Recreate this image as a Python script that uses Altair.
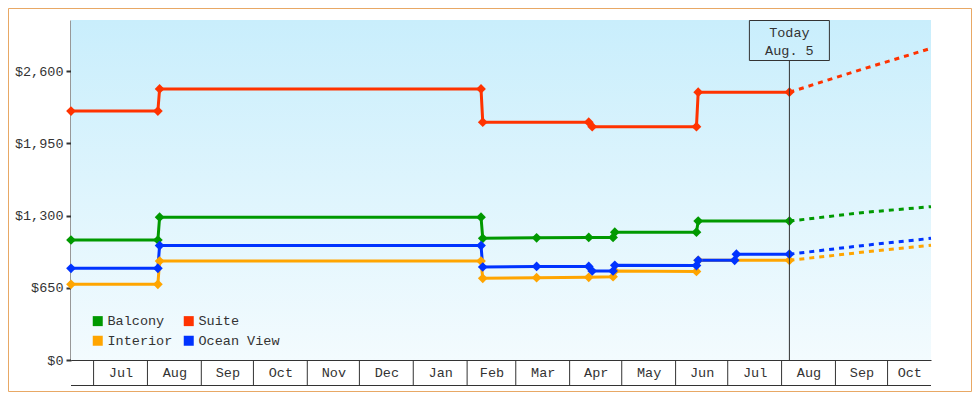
import altair as alt
import pandas as pd

# ---------------- data ----------------
# legend fills column by column: Balcony, Interior | Suite, Ocean View
series_names = ["Balcony", "Interior", "Suite", "Ocean View"]
series_colors = ["#009900", "#ffa500", "#ff3300", "#0033ff"]
draw_order = ["Balcony", "Suite", "Interior", "Ocean View"]

TODAY = "2015-08-05T12:00"
today_lines = ["Today", "Aug. 5"]

balcony_dates = ["2014-06-18", "2014-08-07", "2014-08-08", "2015-02-09", "2015-02-10",
                 "2015-03-13", "2015-04-12", "2015-04-26", "2015-04-27", "2015-06-13",
                 "2015-06-14", TODAY]
balcony_prices = [1080, 1080, 1285, 1285, 1095, 1100, 1103, 1103, 1150, 1150, 1250, 1250]

suite_dates = ["2014-06-18", "2014-08-07", "2014-08-08", "2015-02-09", "2015-02-10",
               "2015-04-12", "2015-04-14", "2015-06-13", "2015-06-14", TODAY]
suite_prices = [2240, 2240, 2440, 2440, 2140, 2140, 2100, 2100, 2410, 2410]

interior_dates = ["2014-06-18", "2014-08-07", "2014-08-08", "2015-02-09", "2015-02-10",
                  "2015-03-13", "2015-04-12", "2015-04-26", "2015-04-27", "2015-06-13",
                  "2015-06-14", TODAY]
interior_prices = [681, 681, 890, 890, 735, 741, 744, 750, 800, 797, 897, 897]

ocean_dates = ["2014-06-18", "2014-08-07", "2014-08-08", "2015-02-09", "2015-02-10",
               "2015-03-13", "2015-04-12", "2015-04-14", "2015-04-26", "2015-04-27",
               "2015-06-13", "2015-06-14", "2015-07-05", "2015-07-06", TODAY]
ocean_prices = [825, 825, 1030, 1030, 837, 842, 842, 801, 801, 852, 850, 897, 897, 952, 952]

proj_dates = [TODAY, "2015-09-16", "2015-10-26"]
balcony_proj = [1250, 1326, 1380]
suite_proj = [2410, 2615, 2805]
interior_proj = [897, 969, 1032]
ocean_proj = [952, 1029, 1095]

month_starts = ["2014-07-01", "2014-08-01", "2014-09-01", "2014-10-01", "2014-11-01",
                "2014-12-01", "2015-01-01", "2015-02-01", "2015-03-01", "2015-04-01",
                "2015-05-01", "2015-06-01", "2015-07-01", "2015-08-01", "2015-09-01",
                "2015-10-01"]
month_label_pos = ["2014-07-16T12:00", "2014-08-16T12:00", "2014-09-16", "2014-10-16T12:00",
                   "2014-11-16", "2014-12-16T12:00", "2015-01-16T12:00", "2015-02-15",
                   "2015-03-16T12:00", "2015-04-16", "2015-05-16T12:00", "2015-06-16",
                   "2015-07-16T12:00", "2015-08-16T12:00", "2015-09-16", "2015-10-13T12:00"]

x_start = "2014-06-18"
x_end = "2015-10-26"
y_ticks = [0, 650, 1300, 1950, 2600]
y_max = 3060


def to_dt(values):
    return pd.to_datetime(values, format="ISO8601")


# ---------------- tables ----------------
def frame(name, dates, prices):
    return pd.DataFrame({"series": name, "date": to_dt(dates), "price": prices})

hist = pd.concat([
    frame("Balcony", balcony_dates, balcony_prices),
    frame("Suite", suite_dates, suite_prices),
    frame("Interior", interior_dates, interior_prices),
    frame("Ocean View", ocean_dates, ocean_prices),
], ignore_index=True)
hist["order"] = hist["series"].map({n: i for i, n in enumerate(draw_order)})

proj = pd.concat([
    frame("Balcony", proj_dates, balcony_proj),
    frame("Suite", proj_dates, suite_proj),
    frame("Interior", proj_dates, interior_proj),
    frame("Ocean View", proj_dates, ocean_proj),
], ignore_index=True)

ticks_df = pd.DataFrame({"date": to_dt(month_starts)})
today_df = pd.DataFrame({"date": to_dt([TODAY])})
one = pd.DataFrame({"k": [0]})


def dt(s):
    d = pd.Timestamp(s)
    return alt.DateTime(year=d.year, month=d.month, date=d.day, hours=d.hour)


W, H = 860, 340
FONT = "Liberation Mono"
FS = 13.5
INK = "#333333"

x_scale = alt.Scale(domain=[dt(x_start), dt(x_end)], nice=False)
y_scale = alt.Scale(domain=[0, y_max], nice=False, zero=True)

x_enc = alt.X("date:T", scale=x_scale,
              axis=alt.Axis(values=[dt(s) for s in month_label_pos], format="%b",
                            tickSize=0, labelPadding=5, labelAlign="center",
                            domainColor=INK, domainWidth=1, title=None, grid=False,
                            labelFlush=False, labelOverlap=False))
y_enc = alt.Y("price:Q", scale=y_scale,
              axis=alt.Axis(values=y_ticks, format="$,.0f", tickSize=5, tickWidth=2,
                            domainWidth=2, labelPadding=3, title=None, grid=False))
color_scale = alt.Scale(domain=series_names, range=series_colors)

# background gradient
bg = alt.Chart(one).mark_rect(
    color=alt.LinearGradient(
        gradient="linear",
        stops=[alt.GradientStop(color="#c9eefc", offset=0),
               alt.GradientStop(color="#f3fbfe", offset=1)],
        x1=0, x2=0, y1=0, y2=1),
).encode(x=alt.value(0), x2=alt.value(W), y=alt.value(0), y2=alt.value(H))

lines = alt.Chart(hist).mark_line(strokeWidth=3).encode(
    x=x_enc, y=y_enc,
    color=alt.Color("series:N", scale=color_scale, legend=None),
    detail="series:N",
)

proj_lines = alt.Chart(proj).mark_line(strokeWidth=3, strokeDash=[5, 5]).encode(
    x="date:T", y="price:Q",
    color=alt.Color("series:N", scale=color_scale, legend=None),
)

points = alt.Chart(hist).mark_point(shape="diamond", filled=True, size=95, opacity=1).encode(
    x="date:T", y="price:Q",
    color=alt.Color("series:N", scale=color_scale,
                    legend=alt.Legend(orient="none", legendX=20, legendY=294, columns=2,
                                      symbolType="square", symbolSize=100,
                                      symbolStrokeWidth=0, symbolOpacity=1,
                                      labelFont=FONT, labelFontSize=FS, labelColor=INK,
                                      labelOffset=3, rowPadding=5, columnPadding=9,
                                      padding=0, title=None)),
    order="order:Q",
)

today_rule = alt.Chart(today_df).mark_rule(color=INK, strokeWidth=1).encode(
    x="date:T", y=alt.value(40.5), y2=alt.value(H))
today_box = alt.Chart(today_df).mark_rect(filled=False, color=INK, strokeWidth=1,
                                           xOffset=-40, x2Offset=40).encode(
    x="date:T", x2="date:T", y=alt.value(0.5), y2=alt.value(40.5))
today_t1 = alt.Chart(today_df).mark_text(font=FONT, fontSize=FS, color=INK, align="center",
                                          baseline="alphabetic", text=today_lines[0]).encode(
    x="date:T", y=alt.value(17))
today_t2 = alt.Chart(today_df).mark_text(font=FONT, fontSize=FS, color=INK, align="center",
                                          baseline="alphabetic", text=today_lines[1]).encode(
    x="date:T", y=alt.value(35))

month_ticks = alt.Chart(ticks_df).mark_rule(color=INK, strokeWidth=1).encode(
    x="date:T", y=alt.value(H), y2=alt.value(H + 25))
bottom_line = alt.Chart(one).mark_rule(color=INK, strokeWidth=1).encode(
    x=alt.value(0), x2=alt.value(W), y=alt.value(H + 25.5))

border = alt.Chart(one).mark_rect(filled=False, color="#e8a865", strokeWidth=1).encode(
    x=alt.value(-62.5), x2=alt.value(900.5), y=alt.value(-11.5), y2=alt.value(371.5))

chart = alt.layer(
    bg, lines, proj_lines, points, today_rule, today_box, today_t1, today_t2,
    month_ticks, bottom_line, border,
).resolve_legend(color="independent").properties(
    width=W, height=H,
    padding={"left": 63, "top": 12, "right": 41, "bottom": 32},
    autosize=alt.AutoSizeParams(type="none"),
    background="white",
).configure_view(stroke=None).configure_axis(
    labelFont=FONT, labelFontSize=FS, labelColor=INK, domainColor=INK, tickColor=INK,
)

chart.save("out.html", embed_options={"renderer": "svg", "actions": False})
